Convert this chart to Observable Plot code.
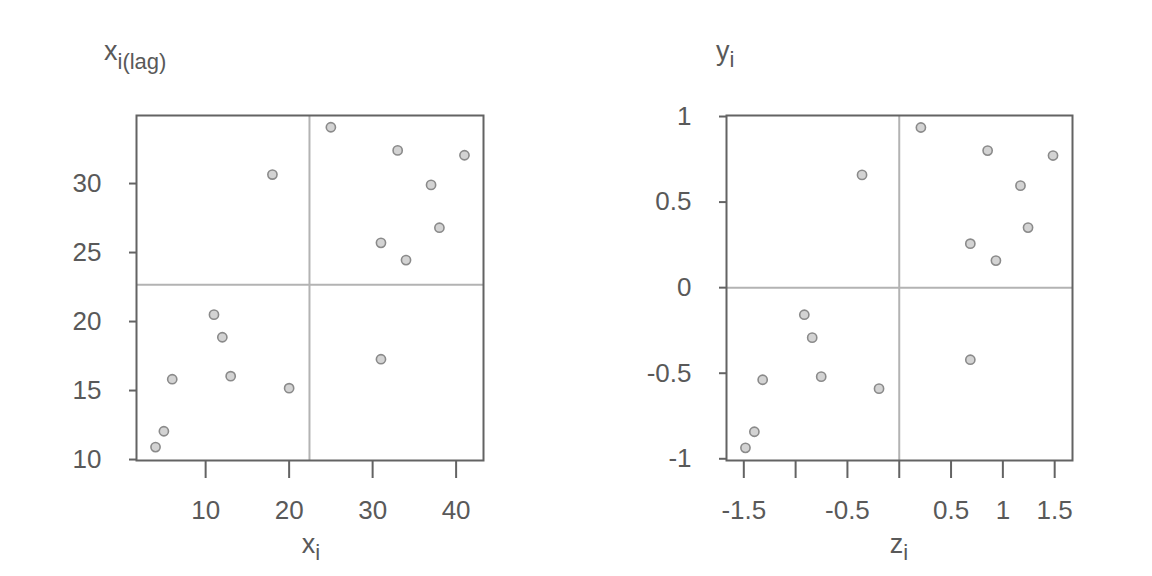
<!DOCTYPE html>
<html>
<head>
<meta charset="utf-8">
<script src="https://cdn.jsdelivr.net/npm/d3@7"></script>
<script src="https://cdn.jsdelivr.net/npm/@observablehq/plot@0.6"></script>
<style>
  html, body { margin: 0; padding: 0; background: #ffffff; }
  #wrap { position: relative; width: 1152px; height: 576px; background: #ffffff; }
  .panel { position: absolute; top: 0; width: 576px; height: 576px; }
</style>
</head>
<body>
<div id="wrap">
  <div id="left" class="panel" style="left:0px"></div>
  <div id="right" class="panel" style="left:576px"></div>
</div>
<script>
// ---- data ----
const xValues   = [4, 5, 6, 11, 12, 13, 18, 20, 25, 31, 31, 33, 34, 37, 38, 41];
const xLag      = [10.9, 12.05, 15.82, 20.5, 18.86, 16.04, 30.65, 15.17, 34.08, 25.7, 17.27, 32.4, 24.45, 29.9, 26.8, 32.05];
const zValues   = [-1.484, -1.398, -1.318, -0.916, -0.84, -0.753, -0.359, -0.195, 0.209, 0.686, 0.686, 0.853, 0.933, 1.17, 1.243, 1.484];
const zLag      = [-0.936, -0.842, -0.538, -0.158, -0.292, -0.52, 0.659, -0.59, 0.936, 0.257, -0.421, 0.801, 0.158, 0.596, 0.351, 0.772];

const leftXTicks   = [10, 20, 30, 40];
const leftYTicks   = [10, 15, 20, 25, 30];
const rightXTicks  = [-1.5, -1, -0.5, 0, 0.5, 1, 1.5];
const rightXLabels = [-1.5, -0.5, 0.5, 1, 1.5];
const rightYTicks  = [-1, -0.5, 0, 0.5, 1];

const leftRows  = xValues.map((x, i) => ({x, y: xLag[i]}));
const rightRows = zValues.map((x, i) => ({x, y: zLag[i]}));

const textColor  = "#595959";
const frameColor = "#636363";
const ruleColor  = "#b3b3b3";
const dotFill    = "#d3d3d3";
const dotStroke  = "#8a8a8a";
const font = "'Liberation Sans', Arial, Helvetica, sans-serif";

function panel({rows, xDomain, yDomain, xTicks, yTicks, xFormat, yFormat, vx, hy, marginLeft, marginRight}) {
  return Plot.plot({
    width: 576,
    height: 576,
    marginLeft, marginRight,
    marginTop: 115,
    marginBottom: 116,
    style: {fontFamily: font, fontSize: "26px", color: textColor, background: "#ffffff"},
    x: {domain: xDomain},
    y: {domain: yDomain},
    marks: [
      Plot.ruleX([vx], {stroke: ruleColor, strokeWidth: 2}),
      Plot.ruleY([hy], {stroke: ruleColor, strokeWidth: 2}),
      Plot.frame({stroke: frameColor, strokeWidth: 2}),
      Plot.axisX(xTicks, {tickSize: 18, tickPadding: 22, strokeWidth: 2, stroke: frameColor, fill: textColor, fontSize: 26, tickFormat: xFormat, label: null}),
      Plot.axisY(yTicks, {tickSize: 7, tickPadding: 28, strokeWidth: 2, stroke: frameColor, fill: textColor, fontSize: 26, tickFormat: yFormat, label: null}),
      Plot.dot(rows, {x: "x", y: "y", r: 4.6, fill: dotFill, stroke: dotStroke, strokeWidth: 1.6})
    ]
  });
}

function addLabel(svg, {x, y, main, sub, dy, anchor}) {
  const t = d3.select(svg).append("text")
    .attr("x", x).attr("y", y)
    .attr("fill", textColor)
    .attr("font-family", font)
    .attr("font-size", 27)
    .attr("text-anchor", anchor);
  t.append("tspan").text(main);
  t.append("tspan").attr("font-size", 22).attr("dy", dy).text(sub);
}

const leftSvg = panel({
  rows: leftRows,
  xDomain: [1.72, 43.28],
  yDomain: [9.93, 34.93],
  xTicks: leftXTicks,
  yTicks: leftYTicks,
  xFormat: d => String(d),
  yFormat: d => String(d),
  vx: d3.mean(xValues),
  hy: d3.mean(xLag),
  marginLeft: 136,
  marginRight: 93
});
addLabel(leftSvg, {x: 104, y: 60, main: "x", sub: "i(lag)", dy: 9, anchor: "start"});
addLabel(leftSvg, {x: 311, y: 553, main: "x", sub: "i", dy: 7, anchor: "middle"});
document.getElementById("left").appendChild(leftSvg);

const rightSvg = panel({
  rows: rightRows,
  xDomain: [-1.667, 1.672],
  yDomain: [-1.01, 1.006],
  xTicks: rightXTicks,
  yTicks: rightYTicks,
  xFormat: d => rightXLabels.includes(d) ? String(d) : "",
  yFormat: d => String(d),
  vx: 0,
  hy: 0,
  marginLeft: 150,
  marginRight: 80
});
addLabel(rightSvg, {x: 140, y: 60, main: "y", sub: "i", dy: 7, anchor: "start"});
addLabel(rightSvg, {x: 323, y: 553, main: "z", sub: "i", dy: 7, anchor: "middle"});
document.getElementById("right").appendChild(rightSvg);
</script>
</body>
</html>
